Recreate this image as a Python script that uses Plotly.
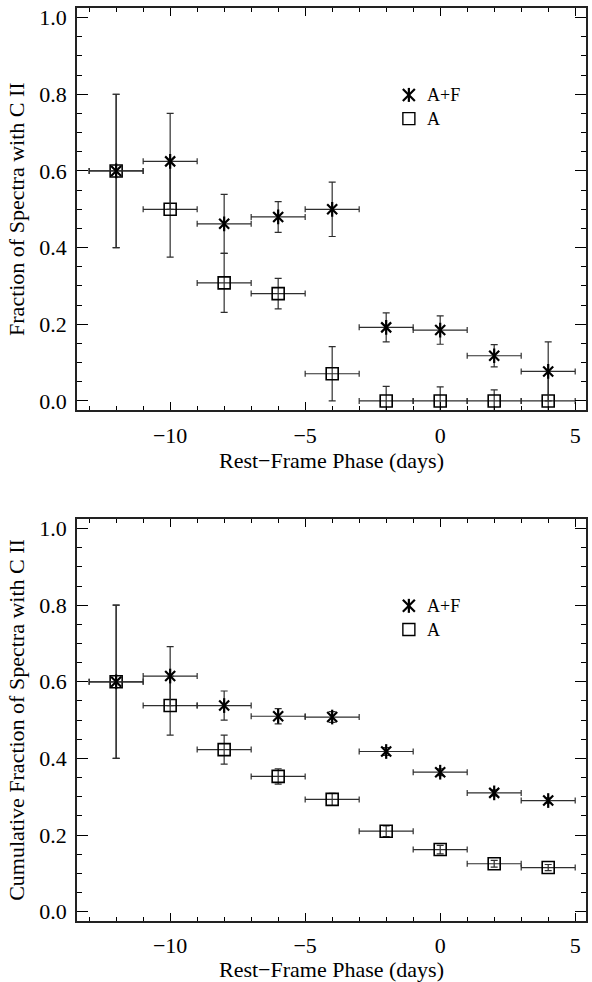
import plotly.graph_objects as go

# Rest-frame phase bins (days); each bin spans +/- 1 day around its centre
phase = [-12, -10, -8, -6, -4, -2, 0, 2, 4]
bin_half_width = 1.0

# Fraction of spectra with C II, per phase bin
frac_af = [0.600, 0.625, 0.462, 0.480, 0.500, 0.192, 0.185, 0.118, 0.077]
frac_af_err = [0.200, 0.125, 0.077, 0.040, 0.071, 0.038, 0.037, 0.029, 0.077]
frac_a = [0.600, 0.500, 0.308, 0.280, 0.071, 0.000, 0.000, 0.000, 0.000]
frac_a_err = [0.200, 0.125, 0.077, 0.040, 0.071, 0.038, 0.037, 0.029, 0.077]

# Cumulative fraction of spectra with C II
cum_af = [0.600, 0.615, 0.538, 0.510, 0.508, 0.418, 0.364, 0.310, 0.290]
cum_af_err = [0.200, 0.077, 0.038, 0.020, 0.014, 0.010, 0.009, 0.008, 0.007]
cum_a = [0.600, 0.538, 0.423, 0.353, 0.293, 0.210, 0.162, 0.125, 0.115]
cum_a_err = [0.200, 0.077, 0.038, 0.020, 0.016, 0.014, 0.011, 0.009, 0.008]

series_names = ["A+F", "A"]
x_tick_vals = [-10, -5, 0, 5]
y_tick_vals = [0.0, 0.2, 0.4, 0.6, 0.8, 1.0]
y_titles = ["Fraction of Spectra with C II",
            "Cumulative Fraction of Spectra with C II"]
x_title = "Rest\u2212Frame Phase (days)"

FONT = "Liberation Serif, Times New Roman, serif"
INK = "black"
ERR = "#2e2e2e"

fig = go.Figure()


def add_panel(xa, ya, y_af, e_af, y_a, e_a):
    ex = dict(type="constant", value=bin_half_width, thickness=1.2,
              width=3, color=ERR)
    # "A" sample: open squares
    fig.add_trace(go.Scatter(
        x=phase, y=y_a, mode="markers", xaxis=xa, yaxis=ya,
        showlegend=False,
        error_x=ex,
        error_y=dict(type="data", array=e_a, thickness=1.2, width=3.5,
                     color=ERR),
        marker=dict(symbol="square-open", size=12,
                    line=dict(width=1.6, color=INK), color=INK)))
    # "A+F" sample: six-armed asterisk built from an X and a vertical bar
    fig.add_trace(go.Scatter(
        x=phase, y=y_af, mode="markers", xaxis=xa, yaxis=ya,
        showlegend=False,
        error_x=ex,
        error_y=dict(type="data", array=e_af, thickness=1.2, width=3.5,
                     color=ERR),
        marker=dict(symbol="x-thin-open", size=10,
                    line=dict(width=2.2, color=INK), color=INK)))
    fig.add_trace(go.Scatter(
        x=phase, y=y_af, mode="markers", xaxis=xa, yaxis=ya,
        showlegend=False, hoverinfo="skip",
        marker=dict(symbol="line-ns-open", size=10.5,
                    line=dict(width=2.2, color=INK), color=INK)))


add_panel("x", "y", frac_af, frac_af_err, frac_a, frac_a_err)
add_panel("x2", "y2", cum_af, cum_af_err, cum_a, cum_a_err)

# Key drawn inside each panel
shapes = []
annotations = []
key_x = 0.652
key_y = [0.784, 0.725]
text_x = 0.683
for xr, yr in (("x domain", "y domain"), ("x2 domain", "y2 domain")):
    common = dict(xref=xr, yref=yr, xsizemode="pixel", ysizemode="pixel",
                  xanchor=key_x)
    star = dict(common, type="line", yanchor=key_y[0],
                line=dict(color=INK, width=2.2))
    shapes.append(dict(star, x0=0, x1=0, y0=-7, y1=7))
    shapes.append(dict(star, x0=-6, x1=6, y0=-6, y1=6))
    shapes.append(dict(star, x0=-6, x1=6, y0=6, y1=-6))
    shapes.append(dict(common, type="rect", yanchor=key_y[1],
                       x0=-6, x1=6, y0=-6, y1=6,
                       line=dict(color=INK, width=1.4)))
    for name, yy in zip(series_names, key_y):
        annotations.append(dict(
            xref=xr, yref=yr, x=text_x, y=yy, text=name, showarrow=False,
            xanchor="left", yanchor="middle",
            font=dict(family=FONT, size=18, color=INK)))


def xaxis_style(anchor):
    return dict(
        anchor=anchor, range=[-13.45, 5.4], tickvals=x_tick_vals,
        ticks="inside", ticklen=8, tickwidth=1.3, tickcolor=INK,
        minor=dict(dtick=1, tick0=0, ticks="inside", ticklen=4,
                   tickwidth=1.1, tickcolor=INK),
        showline=True, linewidth=1.8, linecolor="#222", mirror="ticks",
        showgrid=False, zeroline=False, ticklabelstandoff=4,
        tickfont=dict(family=FONT, size=22, color=INK),
        title=dict(text=x_title, standoff=4,
                   font=dict(family=FONT, size=22, color=INK)))


def yaxis_style(anchor, title, domain):
    return dict(
        anchor=anchor, domain=domain, range=[-0.0245, 1.025],
        tickvals=y_tick_vals, tickformat=".1f",
        ticks="inside", ticklen=11, tickwidth=1.3, tickcolor=INK,
        minor=dict(dtick=0.05, tick0=0, ticks="inside", ticklen=5,
                   tickwidth=1.1, tickcolor=INK),
        showline=True, linewidth=1.8, linecolor="#222", mirror="ticks",
        showgrid=False, zeroline=False, ticklabelstandoff=4,
        tickfont=dict(family=FONT, size=22, color=INK),
        title=dict(text=title, standoff=8,
                   font=dict(family=FONT, size=22, color=INK)))


fig.update_layout(
    width=592, height=982,
    margin=dict(l=77, r=4, t=8, b=58),
    paper_bgcolor="white", plot_bgcolor="white",
    font=dict(family=FONT, color=INK),
    xaxis=xaxis_style("y"),
    yaxis=yaxis_style("x", y_titles[0], [0.5593, 1.0]),
    xaxis2=xaxis_style("y2"),
    yaxis2=yaxis_style("x2", y_titles[1], [0.0, 0.4403]),
    shapes=shapes, annotations=annotations,
    showlegend=False,
)

fig.write_html("out.html")
